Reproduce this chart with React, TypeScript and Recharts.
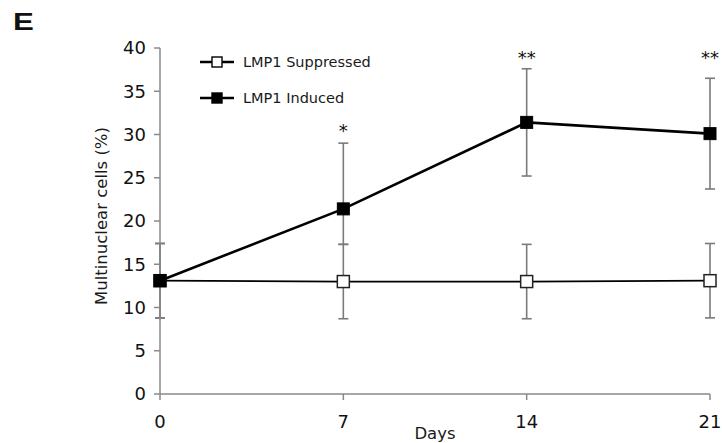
import { LineChart, Line, XAxis, YAxis, ErrorBar, LabelList, Legend } from "recharts";

const days = [0, 7, 14, 21];
const suppressed = [13.1, 13.0, 13.0, 13.1];
const suppressedErr = [4.3, 4.3, 4.3, 4.3];
const induced = [13.1, 21.4, 31.4, 30.1];
const inducedErr: [number, number][] = [
  [4.3, 4.3],
  [4.1, 7.6],
  [6.2, 6.2],
  [6.4, 6.4],
];
// significance marks and the height (in %) they sit at
const sigMarks = ["", "*", "**", "**"];
const sigY = [null, 30.45, 38.85, 38.85];

const xTicks = [0, 7, 14, 21];
const yTicks = [0, 5, 10, 15, 20, 25, 30, 35, 40];

const seriesNames = ["LMP1 Suppressed", "LMP1 Induced"];

const data = days.map((d, i) => ({
  day: d,
  suppressed: suppressed[i],
  suppressedErr: suppressedErr[i],
  induced: induced[i],
  inducedErr: inducedErr[i],
  sig: sigMarks[i],
  sigY: sigY[i],
}));

const FONT = "'DejaVu Sans', Verdana, sans-serif";
const AXIS = "#8a8a8a";
const ERR = "#7a7a7a";

function squareDot(fill: string, stroke: string, size: number, sw: number) {
  return (props: any) => {
    const { cx, cy, index } = props;
    if (cx == null || cy == null) return <g key={index} />;
    return (
      <rect
        key={index}
        x={cx - size / 2}
        y={cy - size / 2}
        width={size}
        height={size}
        fill={fill}
        stroke={stroke}
        strokeWidth={sw}
      />
    );
  };
}

function LegendContent() {
  const rows = [
    { name: seriesNames[0], fill: "#fff" },
    { name: seriesNames[1], fill: "#000" },
  ];
  return (
    <div style={{ fontFamily: FONT }}>
      {rows.map((r) => (
        <div key={r.name} style={{ display: "flex", alignItems: "center", height: 36 }}>
          <svg width={34} height={14} style={{ marginRight: 9 }}>
            <line x1={0} y1={7} x2={34} y2={7} stroke="#000" strokeWidth={2.4} />
            <rect x={12} y={2} width={10} height={10} fill={r.fill} stroke="#000" strokeWidth={1.4} />
          </svg>
          <span style={{ fontSize: 14.5, color: "#1a1a1a" }}>{r.name}</span>
        </div>
      ))}
    </div>
  );
}

function YLabel(props: any) {
  const vb = props.viewBox || {};
  const x = vb.x + 7;
  const y = vb.y + vb.height / 2 - 5;
  return (
    <text
      x={x}
      y={y}
      transform={`rotate(-90, ${x}, ${y})`}
      textAnchor="middle"
      fontFamily={FONT}
      fontSize={16.5}
      fill="#1a1a1a"
    >
      Multinuclear cells (%)
    </text>
  );
}

export default function App() {
  return (
    <div style={{ position: "absolute", left: 0, top: 0, width: 722, height: 443, background: "#fff" }}>
      <div
        style={{
          position: "absolute",
          left: 13,
          top: 8,
          fontFamily: "'Liberation Sans', Arial, sans-serif",
          fontWeight: "bold",
          fontSize: 24,
          color: "#111",
          transform: "scaleX(1.3)",
          transformOrigin: "left top",
        }}
      >
        E
      </div>
      <LineChart width={722} height={443} data={data} margin={{ top: 48, right: 12, bottom: 0, left: 100 }}>
        <XAxis
          dataKey="day"
          type="number"
          domain={[0, 21]}
          ticks={xTicks}
          height={49}
          tickSize={6}
          tickMargin={15}
          axisLine={{ stroke: AXIS, strokeWidth: 1.5 }}
          tickLine={{ stroke: AXIS, strokeWidth: 1.5 }}
          tick={{ fontSize: 18, fill: "#111", fontFamily: FONT }}
          label={{ value: "Days", position: "insideBottom", offset: 4, fontSize: 16.5, fill: "#1a1a1a", fontFamily: FONT }}
        />
        <YAxis
          type="number"
          domain={[0, 40]}
          ticks={yTicks}
          width={60}
          tickSize={6}
          tickMargin={8}
          axisLine={{ stroke: AXIS, strokeWidth: 1.5 }}
          tickLine={{ stroke: AXIS, strokeWidth: 1.5 }}
          tick={{ fontSize: 18, fill: "#111", fontFamily: FONT }}
          label={<YLabel />}
        />
        <Legend
          layout="vertical"
          align="center"
          verticalAlign="middle"
          content={<LegendContent />}
          wrapperStyle={{ left: 200, top: 44, width: 220 }}
        />
        <Line
          dataKey="suppressed"
          name={seriesNames[0]}
          stroke="#000"
          strokeWidth={1.8}
          dot={squareDot("#fff", "#222", 12, 1.5)}
          activeDot={false}
          isAnimationActive={false}
        >
          <ErrorBar dataKey="suppressedErr" direction="y" width={5} stroke={ERR} strokeWidth={1.6} />
        </Line>
        <Line
          dataKey="induced"
          name={seriesNames[1]}
          stroke="#000"
          strokeWidth={2.6}
          dot={squareDot("#000", "#000", 12, 1)}
          activeDot={false}
          isAnimationActive={false}
        >
          <ErrorBar dataKey="inducedErr" direction="y" width={5} stroke={ERR} strokeWidth={1.6} />
        </Line>
        <Line
          dataKey="sigY"
          stroke="none"
          dot={false}
          activeDot={false}
          legendType="none"
          isAnimationActive={false}
        >
          <LabelList dataKey="sig" position="center" fontSize={18} fill="#111" fontFamily={FONT} />
        </Line>
      </LineChart>
    </div>
  );
}
